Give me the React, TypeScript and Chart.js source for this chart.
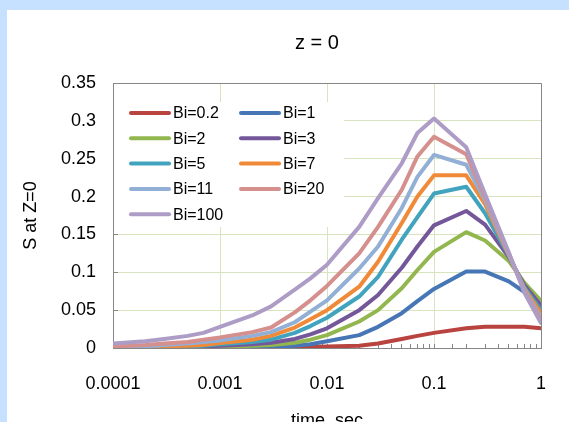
import React, { useEffect, useRef } from "react";
import { Chart, registerables } from "chart.js";

Chart.register(...registerables);

const CHART_TITLE = "z = 0";
const X_TITLE = "time, sec";
const Y_TITLE = "S at Z=0";

const times = [0.0001, 0.0002, 0.0003, 0.0005, 0.0007, 0.001, 0.002, 0.003, 0.005, 0.007, 0.01, 0.02, 0.03, 0.05, 0.07, 0.1, 0.2, 0.3, 0.5, 0.7, 1];

const xDecades = [0.0001, 0.001, 0.01, 0.1, 1];
const xTickLabels = ["0.0001", "0.001", "0.01", "0.1", "1"];
const yTickLabels = ["0", "0.05", "0.1", "0.15", "0.2", "0.25", "0.3", "0.35"];

const seriesNames = ["Bi=0.2", "Bi=1", "Bi=2", "Bi=3", "Bi=5", "Bi=7", "Bi=11", "Bi=20", "Bi=100"];
const seriesColors = ["#B8433F", "#4676B5", "#93B74F", "#74579A", "#41A3BD", "#F08A38", "#92AFD6", "#D58F8D", "#AD9CC6"];

const bi0_2 = [0, 0, 0, 0, 0, 0, 0.0002, 0.0004, 0.0008, 0.0012, 0.002, 0.003, 0.006, 0.012, 0.016, 0.02, 0.026, 0.028, 0.028, 0.028, 0.026];
const bi1 = [0, 0, 0, 0, 0.0001, 0.0003, 0.001, 0.0015, 0.003, 0.005, 0.009, 0.017, 0.028, 0.046, 0.062, 0.078, 0.101, 0.101, 0.088, 0.074, 0.056];
const bi2 = [0, 0, 0, 0.0001, 0.0003, 0.001, 0.003, 0.004, 0.007, 0.011, 0.017, 0.035, 0.05, 0.079, 0.103, 0.127, 0.153, 0.142, 0.115, 0.086, 0.062];
const bi3 = [0.0001, 0.0003, 0.0005, 0.001, 0.002, 0.003, 0.005, 0.007, 0.012, 0.018, 0.026, 0.05, 0.07, 0.106, 0.134, 0.162, 0.181, 0.163, 0.12, 0.083, 0.056];
const bi5 = [0.0003, 0.0008, 0.0012, 0.002, 0.003, 0.005, 0.008, 0.011, 0.02, 0.029, 0.04, 0.068, 0.094, 0.143, 0.173, 0.204, 0.213, 0.178, 0.122, 0.08, 0.05];
const bi7 = [0.0005, 0.001, 0.002, 0.003, 0.004, 0.0065, 0.011, 0.016, 0.027, 0.038, 0.05, 0.081, 0.114, 0.165, 0.2, 0.228, 0.228, 0.19, 0.123, 0.078, 0.046];
const bi11 = [0.001, 0.002, 0.004, 0.006, 0.008, 0.01, 0.016, 0.021, 0.034, 0.048, 0.063, 0.105, 0.134, 0.185, 0.226, 0.255, 0.242, 0.195, 0.124, 0.077, 0.04];
const bi20 = [0.002, 0.004, 0.006, 0.008, 0.011, 0.014, 0.021, 0.027, 0.047, 0.063, 0.082, 0.125, 0.16, 0.209, 0.253, 0.279, 0.256, 0.199, 0.125, 0.075, 0.037];
const bi100 = [0.006, 0.009, 0.012, 0.016, 0.02, 0.028, 0.043, 0.055, 0.077, 0.092, 0.11, 0.16, 0.198, 0.244, 0.284, 0.303, 0.265, 0.203, 0.126, 0.073, 0.033];

const seriesValues = [bi0_2, bi1, bi2, bi3, bi5, bi7, bi11, bi20, bi100];

const FONT = "'Liberation Sans', Arial, sans-serif";
const GRID = "#D7E4BD";
const AXIS = "#868686";

function decadeIndex(v: number): number {
  for (let i = 0; i < xDecades.length; i++) {
    if (Math.abs(Math.log10(v) - Math.log10(xDecades[i])) < 1e-6) return i;
  }
  return -1;
}

const backgroundPlugin = {
  id: "bgPanel",
  beforeDraw(chart: any) {
    const { ctx, width, height } = chart;
    ctx.save();
    ctx.fillStyle = "#C6E0FF";
    ctx.fillRect(0, 0, width, height);
    ctx.fillStyle = "#FFFFFF";
    ctx.fillRect(7, 10, width - 7, height - 10);
    ctx.fillStyle = "#000";
    ctx.font = `20px ${FONT}`;
    ctx.textAlign = "center";
    ctx.textBaseline = "middle";
    ctx.fillText(CHART_TITLE, 317, 43);
    ctx.restore();
  },
};

const framePlugin = {
  id: "frameLegend",
  beforeDatasetsDraw(chart: any) {
    const { ctx, chartArea } = chart;
    ctx.save();
    // legend box
    const bx = chartArea.left + 1;
    const by = 102;
    ctx.fillStyle = "#FFFFFF";
    ctx.fillRect(bx, by, 344 - bx, 227 - by);
    const colX = [131, 241];
    const rowY0 = 113;
    const rowStep = 25.3;
    ctx.font = `16px ${FONT}`;
    ctx.textAlign = "left";
    ctx.textBaseline = "middle";
    chart.data.datasets.forEach((ds: any, i: number) => {
      const col = i % 2;
      const row = Math.floor(i / 2);
      const x = colX[col];
      const y = rowY0 + row * rowStep;
      ctx.strokeStyle = ds.borderColor;
      ctx.lineWidth = 4;
      ctx.lineCap = "round";
      ctx.beginPath();
      ctx.moveTo(x, y);
      ctx.lineTo(x + 38, y);
      ctx.stroke();
      ctx.fillStyle = "#000";
      ctx.fillText(ds.label, x + 42, y + 1);
    });
    // frame
    ctx.strokeStyle = AXIS;
    ctx.lineWidth = 1;
    ctx.lineCap = "butt";
    ctx.beginPath();
    ctx.moveTo(Math.round(chartArea.left) + 0.5, Math.round(chartArea.top) + 0.5);
    ctx.lineTo(Math.round(chartArea.right) + 0.5, Math.round(chartArea.top) + 0.5);
    ctx.lineTo(Math.round(chartArea.right) + 0.5, Math.round(chartArea.bottom) + 0.5);
    ctx.stroke();
    ctx.restore();
  },
};

export default function App() {
  const canvasRef = useRef<HTMLCanvasElement | null>(null);

  useEffect(() => {
    if (!canvasRef.current) return;
    const n = seriesNames.length;
    const chart = new Chart(canvasRef.current, {
      type: "line",
      data: {
        datasets: seriesNames.map((name, i) => ({
          label: name,
          data: seriesValues[i].map((v, j) => ({ x: times[j], y: v })),
          borderColor: seriesColors[i],
          backgroundColor: seriesColors[i],
          borderWidth: 4,
          pointRadius: 0,
          tension: 0,
          borderCapStyle: "round",
          borderJoinStyle: "round",
          order: n - 1 - i,
        })),
      },
      options: {
        responsive: false,
        animation: false,
        devicePixelRatio: 1,
        layout: { padding: { left: 16, right: 28, top: 83, bottom: 0 } },
        plugins: {
          legend: { display: false },
          title: { display: false },
          tooltip: { enabled: false },
        },
        scales: {
          x: {
            type: "logarithmic",
            min: 0.0001,
            max: 1,
            afterFit: (s: any) => {
              s.height = 74;
              s.paddingRight = 0;
              s.paddingLeft = 0;
            },
            grid: {
              color: (c: any) => (c.tick && decadeIndex(c.tick.value) >= 0 ? GRID : "rgba(0,0,0,0)"),
              tickColor: AXIS,
              tickLength: -4,
              lineWidth: 1,
            },
            border: { color: AXIS, width: 1 },
            ticks: {
              autoSkip: false,
              maxRotation: 0,
              minRotation: 0,
              padding: 29,
              color: "#000",
              font: { size: 18, family: FONT },
              callback: (v: any) => {
                const k = decadeIndex(Number(v));
                return k >= 0 ? xTickLabels[k] : "";
              },
            },
            title: {
              display: true,
              text: X_TITLE,
              color: "#000",
              font: { size: 18, family: FONT },
              padding: { top: 0, bottom: -10 },
            },
          },
          y: {
            min: 0,
            max: 0.35,
            afterFit: (s: any) => {
              s.width = 97;
            },
            grid: { color: GRID, tickColor: AXIS, tickLength: -5, lineWidth: 1 },
            border: { color: AXIS, width: 1 },
            ticks: {
              stepSize: 0.05,
              padding: 22,
              color: "#000",
              font: { size: 18, family: FONT },
              callback: (_v: any, i: number) => yTickLabels[i],
            },
            title: {
              display: true,
              text: Y_TITLE,
              color: "#000",
              font: { size: 18, family: FONT },
              padding: { top: 4, bottom: 4 },
            },
          },
        },
      } as any,
      plugins: [backgroundPlugin, framePlugin],
    });
    return () => chart.destroy();
  }, []);

  return (
    <div style={{ position: "fixed", left: 0, top: 0, width: 569, height: 422, overflow: "hidden" }}>
      <canvas ref={canvasRef} width={569} height={422} style={{ display: "block", width: 569, height: 422 }} />
    </div>
  );
}
